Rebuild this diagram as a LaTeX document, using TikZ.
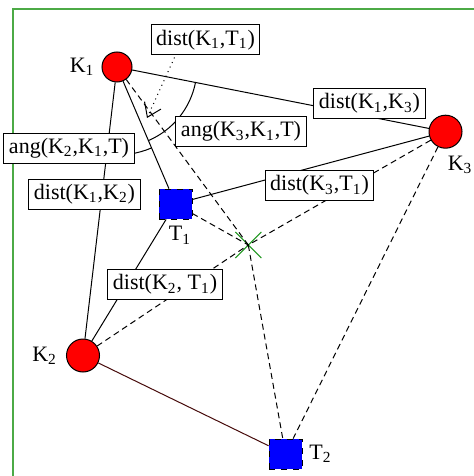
\documentclass[tikz,border=0pt]{standalone}
\usepackage{fontspec}
\setmainfont{Liberation Serif}
\usetikzlibrary{shapes,arrows.meta,angles,positioning}
\definecolor{framegreen}{RGB}{76,170,70}
\definecolor{crossgreen}{RGB}{30,150,30}
\definecolor{darkbrown}{RGB}{70,10,10}
\newcommand{\Kk}[1]{K\textsubscript{#1}}
\newcommand{\Tt}[1]{T\textsubscript{#1}}
\tikzset{
	station/.style={circle,inner sep=0,fill=red,draw,line width=0.5pt,minimum size=16.5pt},
	target/.style={rectangle,inner sep=0,fill=blue,draw,dashed,minimum width=16.5pt,minimum height=15pt},
	estim/.style={cross out,inner sep=0,draw=crossgreen,line width=0.5pt,minimum size=12.5pt},
	measbox/.style={rectangle,draw,fill=white,line width=0.5pt,inner xsep=2.5pt,inner ysep=2pt,minimum height=15pt},
	edge/.style={color=black,line width=0.5pt},
	guess/.style={color=black,line width=0.5pt,dash pattern=on 3pt off 2pt},
	angarc/.style={draw,line width=0.5pt},
	pointer/.style={-{Straight Barb[length=6.5pt,width=9pt]},dotted,line width=0.5pt}
}
\begin{document}
\begin{tikzpicture}[x=0.5pt,y=-0.5pt,font=\fontsize{11}{13}\selectfont]
\useasboundingbox (0,0) rectangle (474,476);
\draw[framegreen,line width=0.75pt] (13,476) -- (13,9) -- (474,9);

%%%% stations
\node[station,minimum size=15pt,label={[label distance=0pt]left:\Kk{1}}] (K1) at (117,67) {};
\node[station,label={[label distance=1pt]left:\Kk{2}}] (K2) at (83,355.5) {};
\node[station,label={[xshift=7.3pt]below:\Kk{3}}] (K3) at (445.5,131.7) {};

%%%% targets
\node[target,label={[xshift=2.2pt]below:\Tt{1}}] (T1) at (175.5,204) {};
\node[target,label=right:\Tt{2}] (T2) at (285.5,454) {};
\node[estim] (X) at (248.3,245) {};

\draw[edge] (K1) -- (K3);
\draw[edge] (K1) -- (K2);
\draw[edge] (K1) -- (T1);
\draw[edge] (K3) -- (T1);
\draw[edge] (K2) -- (T1);
\draw[edge,darkbrown] (K2) -- (T2);

\draw[guess] (K1) -- (X.center);
\draw[guess] (T1) -- (X.center);
\draw[guess] (K2) -- (X.center);
\draw[guess] (K3) -- (X.center);
\draw[guess] (X.center) -- (T2);
\draw[guess] (K3) -- (T2);

\pic[angarc,angle radius=40pt] {angle=T1--K1--K3};
\pic[angarc,angle radius=44pt] {angle=K2--K1--T1};

%%%% measurements
\node[measbox] (dK1T1) at (205.5,40) {dist(\Kk{1},\Tt{1})};
\node[measbox] (dK1K3) at (369.5,103.5) {dist(\Kk{1},\Kk{3})};
\node[measbox] (aK3K1T) at (241,131.5) {ang(\Kk{3},\Kk{1},T)};
\node[measbox] (aK2K1T) at (69,148) {ang(\Kk{2},\Kk{1},T)};
\node[measbox] (dK1K2) at (84.5,194) {dist(\Kk{1},\Kk{2})};
\node[measbox] (dK3T1) at (319.5,185.5) {dist(\Kk{3},\Tt{1})};
\node[measbox] (dK2T1) at (165,284.5) {dist(\Kk{2}, \Tt{1})};

\coordinate (ptrtip) at (147,118);
\draw[pointer] ([xshift=-15.5pt,yshift=-1pt]dK1T1.south) -- (ptrtip);
\end{tikzpicture}
\end{document}
